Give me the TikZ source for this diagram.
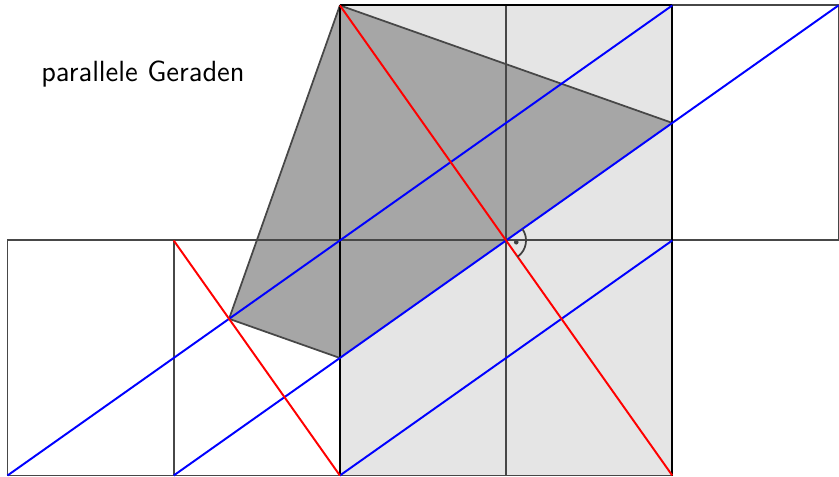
\documentclass[tikz,border=0pt]{standalone}
\usetikzlibrary{calc}
\begin{document}
\begin{tikzpicture}[x=3cm,y=3cm,
  gridline/.style={draw=black!72,line width=1pt},
  border/.style={draw=black,line width=1.1pt},
  blueline/.style={draw=blue,line width=1pt},
  redline/.style={draw=red,line width=1pt},
  polyedge/.style={draw=black!72,line width=0.9pt,line join=round},
  label/.style={font=\sffamily\fontsize{15}{18}\selectfont,anchor=base,inner sep=0pt}]
\pgfmathsetmacro{\r}{sqrt(2)}
\useasboundingbox (-0.045,-0.009) rectangle (5.003,2.861);
% named points
\coordinate (A0) at (0,0);
\coordinate (A1) at (1,0);
\coordinate (A2) at (2,0);
\coordinate (A3) at (3,0);
\coordinate (A4) at (4,0);
\coordinate (B0) at (0,\r);
\coordinate (B1) at (1,\r);
\coordinate (B2) at (2,\r);
\coordinate (B3) at (3,\r);
\coordinate (B4) at (4,\r);
\coordinate (B5) at (5,\r);
\coordinate (C2) at (2,2*\r);
\coordinate (C3) at (3,2*\r);
\coordinate (C4) at (4,2*\r);
\coordinate (C5) at (5,2*\r);
\coordinate (P) at (4,1.5*\r);
\coordinate (Q) at (2,0.5*\r);
\coordinate (S) at (4/3,2*\r/3);
% light square
\fill[black!10] (A2) rectangle (C4);
% dark polygon
\fill[black!35] (C2) -- (P) -- (Q) -- (S) -- cycle;
\draw[polyedge] (Q) -- (S) -- (C2) -- (P);
% grid lines
\draw[gridline] (A0) -- (A4);
\draw[gridline] (B0) -- (B5);
\draw[gridline] (C2) -- (C5);
\draw[gridline] (A0) -- (B0);
\draw[gridline] (A1) -- (B1);
\draw[gridline] (A3) -- (C3);
\draw[gridline] (B5) -- (C5);
% square border
\draw[border] (A2) -- (C2);
\draw[border] (A4) -- (C4);
\draw[border] (C2) -- (C4);
% blue lines
\draw[blueline] (A0) -- (C4);
\draw[blueline] (A1) -- (C5);
\draw[blueline] (A2) -- (B4);
% red lines
\draw[redline] (C2) -- (A4);
\draw[redline] (B1) -- (A2);
% right angle mark
\draw[black!75,line width=0.9pt] ($(B3)+(35.26:0.12)$) arc[start angle=35.26,end angle=-54.74,radius=0.12];
\fill[black!75] ($(B3)+(-9.74:0.062)$) circle[radius=0.014];
% label
\node[label] (title) at (0.815,2.368) {parallele Geraden};
\end{tikzpicture}
\end{document}
